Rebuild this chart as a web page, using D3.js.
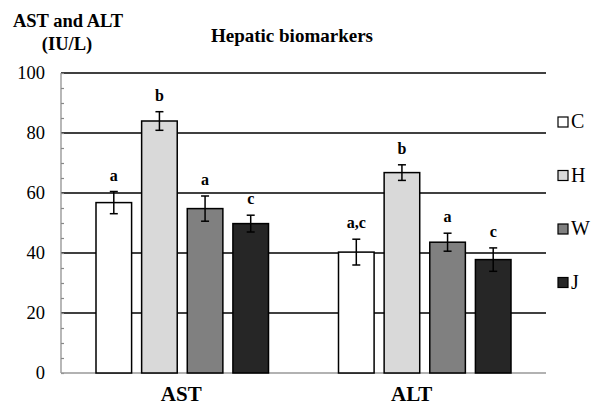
<!DOCTYPE html>
<meta charset="utf-8">
<head>
    <style>
        body {margin: 0; background: #fff;}
    </style>
    <script src="https://d3js.org/d3.v7.min.js"></script>
</head>
<body>
<script>

    var markers = ["AST", "ALT"],
        groups = ["C", "H", "W", "J"],
        colors = ["#ffffff", "#d9d9d9", "#808080", "#262626"],
        meanAST = [56.8, 84.0, 54.8, 49.8],
        meanALT = [40.3, 66.8, 43.6, 37.8],
        errAST = [3.7, 3.1, 4.2, 2.8],
        errALT = [4.3, 2.6, 3.0, 3.9],
        lettersAST = ["a", "b", "a", "c"],
        lettersALT = ["a,c", "b", "a", "c"],
        yTicks = [0, 20, 40, 60, 80, 100];

    var means = [meanAST, meanALT],
        errs = [errAST, errALT],
        letters = [lettersAST, lettersALT];

    var width = 595, height = 407;
    var plot = {left: 61, right: 546, top: 73, bottom: 373};

    var svg = d3.select("body").append("svg")
        .attr("width", width)
        .attr("height", height);

    // all text in Times-like serif
    function label(sel, size, bold) {
        return sel.attr("font-family", "Liberation Serif")
            .attr("font-size", size)
            .attr("font-weight", bold ? "bold" : "normal")
            .attr("fill", "black");
    }

    var x0 = d3.scaleBand()
        .domain(markers)
        .range([plot.left, plot.right])
        .paddingInner(0)
        .paddingOuter(0);

    var x1 = d3.scaleBand()
        .domain(groups)
        .range([35, x0.bandwidth() - 35])
        .paddingInner(0.22);

    var y = d3.scaleLinear()
        .domain([0, 100])
        .range([plot.bottom, plot.top]);

    // gridlines
    svg.append("g").selectAll("line")
        .data(yTicks.filter(function(d) {return d > 0}))
      .enter().append("line")
        .attr("x1", plot.left).attr("x2", plot.right)
        .attr("y1", function(d) {return y(d)}).attr("y2", function(d) {return y(d)})
        .attr("stroke", "black").attr("stroke-width", 1.5);

    // left axis, minor ticks inside
    var yAxis = d3.axisRight(y)
        .tickValues(d3.range(0, 101, 5))
        .tickSize(3)
        .tickFormat("");
    var ax = svg.append("g")
        .attr("transform", "translate(" + plot.left + ",0)")
        .call(yAxis);
    ax.selectAll("path, line").attr("stroke", "#888").attr("stroke-width", 1.2);
    ax.select(".domain").attr("d", "M0," + plot.top + "V" + plot.bottom);

    label(svg.append("g").selectAll("text")
        .data(yTicks)
      .enter().append("text")
        .attr("x", plot.left - 16)
        .attr("y", function(d) {return y(d) + 6})
        .attr("text-anchor", "end"), 18.5, false)
        .text(function(d) {return d});

    // baseline
    svg.append("line")
        .attr("x1", plot.left).attr("x2", plot.right)
        .attr("y1", y(0)).attr("y2", y(0))
        .attr("stroke", "#999").attr("stroke-width", 1.5);

    // category label nudges (the ALT label sits left of its group centre)
    var labelShift = [-1, -13];

    // bars
    markers.forEach(function(m, mi) {
        var g = svg.append("g").attr("transform", "translate(" + x0(m) + ",0)");
        groups.forEach(function(gr, gi) {
            var v = means[mi][gi], e = errs[mi][gi];
            var cx = x1(gr) + x1.bandwidth() / 2;
            g.append("rect")
                .attr("x", x1(gr))
                .attr("y", y(v))
                .attr("width", x1.bandwidth())
                .attr("height", y(0) - y(v))
                .attr("fill", colors[gi])
                .attr("stroke", "black")
                .attr("stroke-width", 1.5);
            g.append("line")
                .attr("x1", cx).attr("x2", cx)
                .attr("y1", y(v + e)).attr("y2", y(v - e))
                .attr("stroke", "black").attr("stroke-width", 1.5);
            [v + e, v - e].forEach(function(t) {
                g.append("line")
                    .attr("x1", cx - 4).attr("x2", cx + 4)
                    .attr("y1", y(t)).attr("y2", y(t))
                    .attr("stroke", "black").attr("stroke-width", 1.5);
            });
            label(g.append("text")
                .attr("x", cx)
                .attr("y", y(v + e) - 11)
                .attr("text-anchor", "middle"), 16, true)
                .text(letters[mi][gi]);
        });
        label(svg.append("text")
            .attr("x", x0(m) + x0.bandwidth() / 2 + labelShift[mi])
            .attr("y", 401)
            .attr("text-anchor", "middle"), 21, true)
            .text(m);
    });

    // legend
    var legend = svg.append("g").selectAll("g")
        .data(groups)
      .enter().append("g")
        .attr("transform", function(d, i) {return "translate(558," + (117 + i * 53.5) + ")"});
    legend.append("rect")
        .attr("width", 10).attr("height", 10)
        .attr("fill", function(d, i) {return colors[i]})
        .attr("stroke", "black").attr("stroke-width", 1.2);
    label(legend.append("text")
        .attr("x", 13).attr("y", 11), 20, false)
        .text(function(d) {return d});

    // titles
    label(svg.append("text")
        .attr("x", 292).attr("y", 42)
        .attr("text-anchor", "middle"), 19, true)
        .text("Hepatic biomarkers");
    label(svg.append("text")
        .attr("x", 68).attr("y", 27)
        .attr("text-anchor", "middle"), 18.5, true)
        .text("AST and ALT");
    label(svg.append("text")
        .attr("x", 67).attr("y", 50)
        .attr("text-anchor", "middle"), 18.5, true)
        .text("(IU/L)");

</script>
</body>
